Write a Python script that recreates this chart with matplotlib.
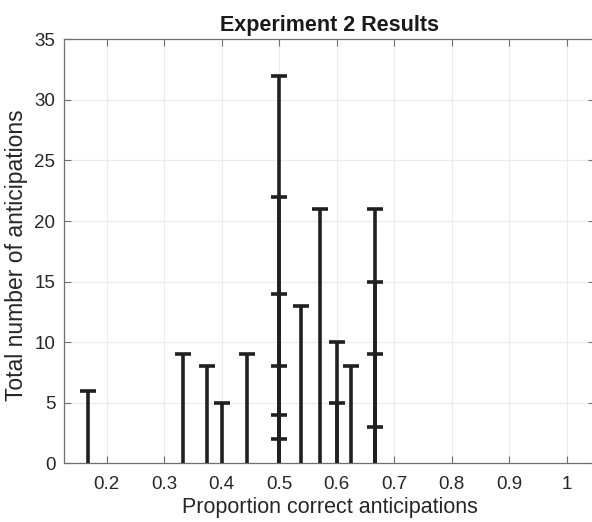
import matplotlib
matplotlib.use('Agg')
import matplotlib.pyplot as plt
import numpy as np

plt.rcParams['font.family'] = ['Liberation Sans', 'DejaVu Sans']

# proportion correct and total anticipations, one entry per participant
proportion = [1/6, 1/3, 3/8, 2/5, 4/9,
              1/2, 1/2, 1/2, 1/2, 1/2, 1/2,
              7/13, 4/7, 3/5, 3/5, 5/8,
              2/3, 2/3, 2/3, 2/3]
total = [6, 9, 8, 5, 9,
         32, 22, 14, 8, 4, 2,
         13, 21, 10, 5, 8,
         21, 15, 9, 3]

xticks = [0.2, 0.3, 0.4, 0.5, 0.6, 0.7, 0.8, 0.9, 1.0]
xticklabels = ['0.2', '0.3', '0.4', '0.5', '0.6', '0.7', '0.8', '0.9', '1']
yticks = [0, 5, 10, 15, 20, 25, 30, 35]

W, H = 592, 522
fig = plt.figure(figsize=(W/100, H/100), dpi=100)
# axes box runs off the right edge of the figure, as in the original
ax = fig.add_axes([63.6/W, (H-463.3)/H, 531.9/W, 424/H])

barcol = '#231f20'
proportion = np.asarray(proportion)
total = np.asarray(total)
ax.vlines(proportion, 0, total, color=barcol, lw=2.6, zorder=3)
ax.plot(proportion, total, ls='none', marker='_', ms=11, mew=2.6,
        color=barcol, zorder=4)

ax.set_xlim(0.125, 1.05)
ax.set_ylim(0, 35)
ax.set_xticks(xticks)
ax.set_xticklabels(xticklabels)
ax.set_yticks(yticks)

ax.grid(True, color='#ebebeb', lw=0.8, zorder=0)
ax.set_axisbelow(True)
for s in ax.spines.values():
    s.set_color('#6f6f6f')
    s.set_linewidth(0.9)
ax.tick_params(direction='in', length=5, width=0.8, color='#6f6f6f',
               labelsize=13.5, labelcolor='#262626', top=True, right=True)
ax.tick_params(axis='x', pad=9)
ax.tick_params(axis='y', pad=6)

ax.set_title('Experiment 2 Results', fontsize=15.5, fontweight='bold',
             color='#1a1a1a', pad=6)
ax.set_xlabel('Proportion correct anticipations', fontsize=15.5, color='#262626',
              labelpad=3)
ax.set_ylabel('Total number of anticipations', fontsize=16.5, color='#262626')
ax.yaxis.set_label_coords(-0.067, 0.49)

fig.savefig('out.png', dpi=100)
